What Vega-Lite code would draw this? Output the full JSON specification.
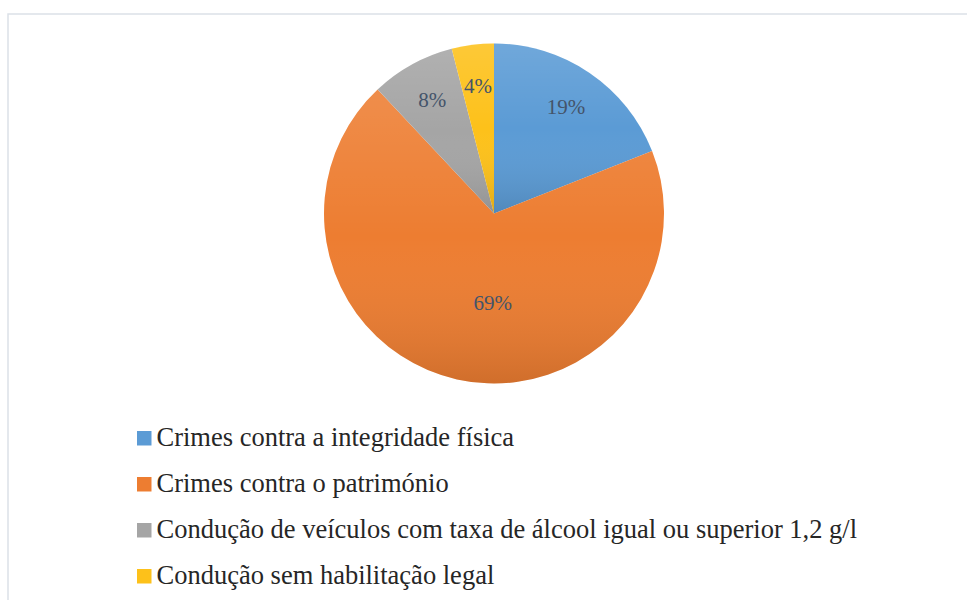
{
  "$schema": "https://vega.github.io/schema/vega-lite/v6.json",
  "autosize": "none",
  "padding": {"left": 8, "top": 14, "right": 0, "bottom": 0},
  "width": 972,
  "height": 600,
  "background": "white",
  "view": {"stroke": "#dbe1e8", "strokeWidth": 1.5, "fill": "white"},
  "config": {
    "font": "Liberation Serif"
  },
  "data": {
    "values": [
      {"categoria": "Crimes contra a integridade física", "pct": 0.19, "ordem": 1},
      {"categoria": "Crimes contra o património", "pct": 0.69, "ordem": 2},
      {"categoria": "Condução de veículos com taxa de álcool igual ou superior 1,2 g/l", "pct": 0.08, "ordem": 3},
      {"categoria": "Condução sem habilitação legal", "pct": 0.04, "ordem": 4}
    ]
  },
  "encoding": {
    "theta": {"field": "pct", "type": "quantitative", "stack": true},
    "order": {"field": "ordem", "type": "quantitative"}
  },
  "layer": [
    {
      "mark": {"type": "arc", "outerRadius": 170, "y": 199.5},
      "encoding": {
        "color": {
          "field": "categoria",
          "type": "nominal",
          "sort": null,
          "scale": {
            "domain": [
              "Crimes contra a integridade física",
              "Crimes contra o património",
              "Condução de veículos com taxa de álcool igual ou superior 1,2 g/l",
              "Condução sem habilitação legal"
            ],
            "range": ["#5b9bd5", "#ed7d31", "#a5a5a5", "#fdc11a"]
          },
          "legend": {
            "orient": "none",
            "legendX": 123,
            "legendY": 411,
            "title": null,
            "symbolType": "square",
            "symbolSize": 210,
            "symbolStrokeWidth": 0,
            "labelFont": "Liberation Serif",
            "labelFontSize": 26.5,
            "labelColor": "#262626",
            "labelOffset": -1,
            "rowPadding": 19,
            "labelLimit": 900
          }
        }
      }
    },
    {
      "mark": {
        "type": "arc",
        "outerRadius": 170,
        "y": 199.5,
        "fill": {
          "gradient": "linear",
          "x1": 0, "y1": 0, "x2": 0, "y2": 1,
          "stops": [
            {"offset": 0, "color": "rgba(255,255,255,0.13)"},
            {"offset": 0.5, "color": "rgba(255,255,255,0)"},
            {"offset": 1, "color": "rgba(0,0,0,0.12)"}
          ]
        }
      }
    },
    {
      "mark": {
        "type": "text",
        "y": 199.5,
        "font": "Liberation Serif",
        "fontSize": 21,
        "radius": {"expr": "datum['pct'] > 0.5 ? 93 : 128"},
        "dx": {"expr": "datum['pct'] > 0.5 ? 19 : 0"}
      },
      "encoding": {
        "text": {"field": "pct", "type": "quantitative", "format": ".0%"},
        "color": {"value": "#44546a"}
      }
    }
  ]
}
